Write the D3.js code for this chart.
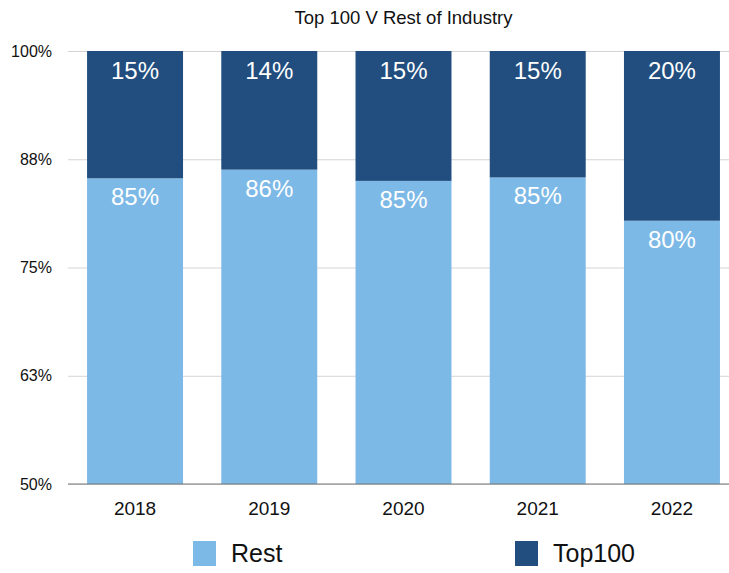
<!DOCTYPE html>
<html>
<head>
<meta charset="utf-8">
<script src="https://cdn.jsdelivr.net/npm/d3@7"></script>
<style>
  body { margin: 0; background: #fff; }
  text { font-family: "Liberation Sans", Arial, sans-serif; }
</style>
</head>
<body>
<div id="chart"></div>
<script>
/**
 * DATA
 * */
const years = ["2018", "2019", "2020", "2021", "2022"];
const rest = [85.3, 86.3, 85.0, 85.4, 80.4];
const top100 = [14.7, 13.7, 15.0, 14.6, 19.6];
const yTicks = [50, 62.5, 75, 87.5, 100];
const series = ["Rest", "Top100"];

const width = 729,
  height = 573,
  margin = { top: 51, bottom: 89, left: 68, right: -10 };

const colors = { Rest: "#7db9e6", Top100: "#214e7e" };

const svg = d3.select("#chart")
  .append("svg")
  .attr("width", width)
  .attr("height", height);

// scales
const x = d3.scaleBand()
  .domain(years)
  .range([margin.left, width - margin.right])
  .paddingInner(0.285)
  .paddingOuter(0.142);

const y = d3.scaleLinear()
  .domain([50, 100])
  .range([height - margin.bottom, margin.top]);

// title
svg.append("text")
  .attr("x", (margin.left + width - margin.right) / 2)
  .attr("y", 24)
  .attr("text-anchor", "middle")
  .attr("font-size", 18.5)
  .attr("fill", "#111")
  .text("Top 100 V Rest of Industry");

// gridlines + y labels
const yAxis = d3.axisLeft(y)
  .tickValues(yTicks)
  .tickSize(-(width - margin.left))
  .tickFormat(d => d3.format(".0f")(d) + "%");

svg.append("g")
  .attr("transform", `translate(${margin.left},0)`)
  .call(yAxis)
  .call(g => g.select(".domain").remove())
  .call(g => g.selectAll(".tick line").attr("stroke", "#d4d4d4"))
  .call(g => g.selectAll(".tick text")
    .attr("x", -16)
    .attr("font-size", 16)
    .attr("fill", "#111"));

// stacked bars
const rows = years.map((yr, i) => ({ year: yr, Rest: rest[i], Top100: top100[i] }));

svg.append("g")
  .selectAll("rect.rest")
  .data(rows)
  .join("rect")
  .attr("class", "rest")
  .attr("x", d => x(d.year))
  .attr("width", x.bandwidth())
  .attr("y", d => y(d.Rest))
  .attr("height", d => y(50) - y(d.Rest))
  .attr("fill", colors.Rest);

svg.append("g")
  .selectAll("rect.top")
  .data(rows)
  .join("rect")
  .attr("class", "top")
  .attr("x", d => x(d.year))
  .attr("width", x.bandwidth())
  .attr("y", d => y(100))
  .attr("height", d => y(d.Rest) - y(100))
  .attr("fill", colors.Top100);

// value labels
svg.append("g")
  .selectAll("text")
  .data(rows)
  .join("text")
  .attr("x", d => x(d.year) + x.bandwidth() / 2)
  .attr("y", d => y(100) + 28)
  .attr("text-anchor", "middle")
  .attr("font-size", 24)
  .attr("fill", "#fff")
  .text(d => Math.round(d.Top100) + "%");

svg.append("g")
  .selectAll("text")
  .data(rows)
  .join("text")
  .attr("x", d => x(d.year) + x.bandwidth() / 2)
  .attr("y", d => y(d.Rest) + 27)
  .attr("text-anchor", "middle")
  .attr("font-size", 24)
  .attr("fill", "#fff")
  .text(d => Math.round(d.Rest) + "%");

// baseline
svg.append("line")
  .attr("x1", margin.left)
  .attr("x2", width)
  .attr("y1", y(50))
  .attr("y2", y(50))
  .attr("stroke", "#777")
  .attr("stroke-width", 1);

// x labels
svg.append("g")
  .selectAll("text")
  .data(years)
  .join("text")
  .attr("x", d => x(d) + x.bandwidth() / 2)
  .attr("y", y(50) + 31)
  .attr("text-anchor", "middle")
  .attr("font-size", 19)
  .attr("fill", "#111")
  .text(d => d);

// legend
const legendX = [193, 515];
const legend = svg.append("g")
  .selectAll("g")
  .data(series)
  .join("g")
  .attr("transform", (d, i) => `translate(${legendX[i]},541)`);

legend.append("rect")
  .attr("width", 23)
  .attr("height", 25)
  .attr("fill", d => colors[d]);

legend.append("text")
  .attr("x", 38)
  .attr("y", 21)
  .attr("font-size", 25)
  .attr("fill", "#111")
  .text(d => d);
</script>
</body>
</html>
